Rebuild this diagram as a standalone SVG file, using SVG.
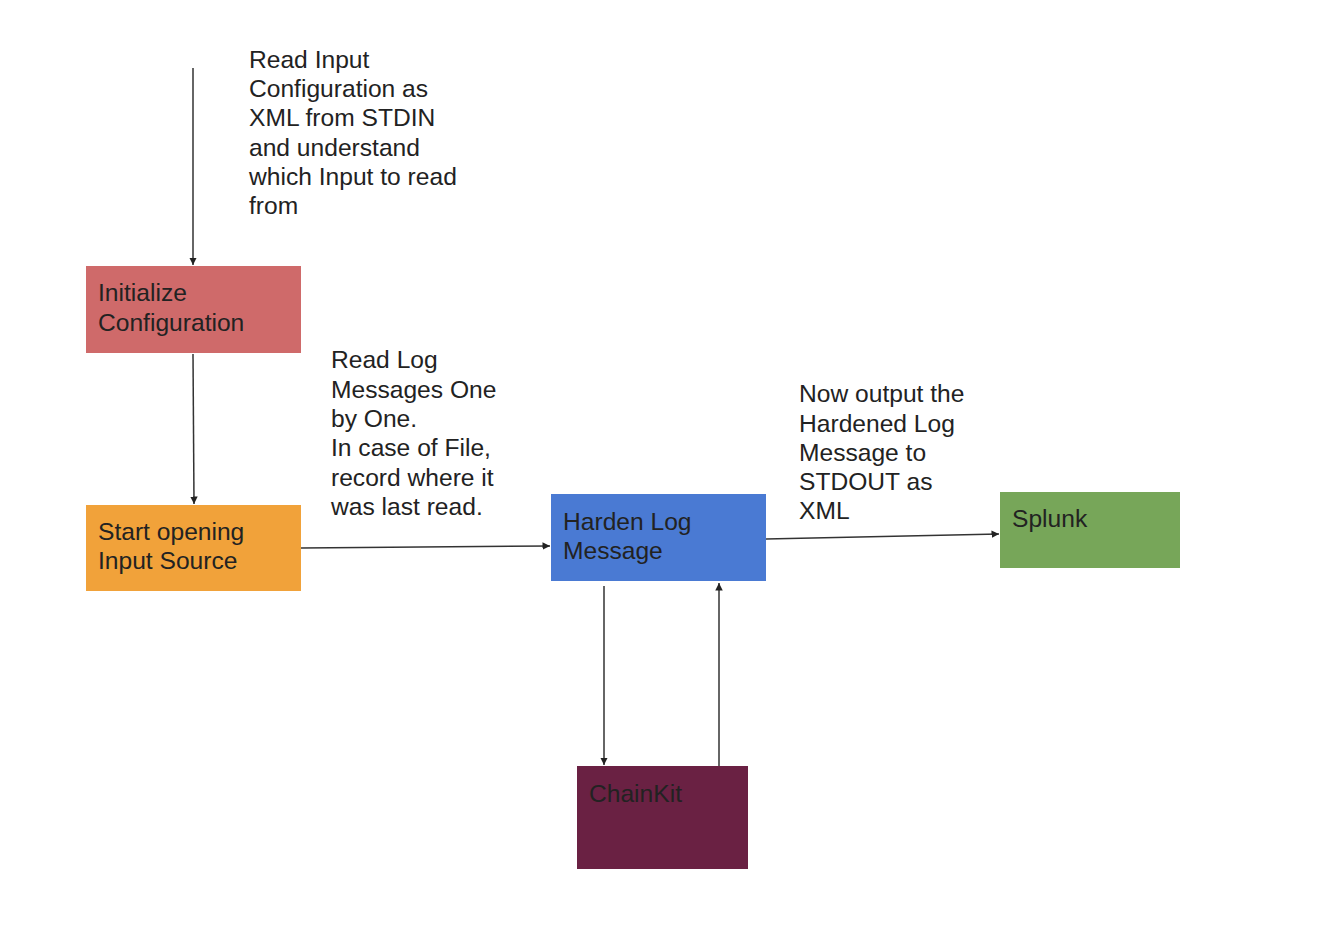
<svg xmlns="http://www.w3.org/2000/svg" width="1328" height="938" viewBox="0 0 1328 938">
<defs>
<marker id="arr" viewBox="0 0 10 10" refX="10" refY="5" markerWidth="5" markerHeight="5" orient="auto" markerUnits="strokeWidth">
<path d="M0,0 L10,5 L0,10 z" fill="#222"/>
</marker>
<style>
text{font-family:"Liberation Sans",Arial,sans-serif;font-size:24.6px;fill:#222}
.conn line{stroke:#333;stroke-width:1.5;marker-end:url(#arr)}
</style>
</defs>
<rect width="1328" height="938" fill="#fff"/>
<g id="connectors" class="conn">
<line x1="193" y1="68" x2="193" y2="265"/>
<line x1="193" y1="354" x2="194" y2="504"/>
<line x1="301" y1="548" x2="550" y2="546"/>
<line x1="766" y1="539" x2="999" y2="534"/>
<line x1="604" y1="586" x2="604" y2="765"/>
<line x1="719" y1="766" x2="719" y2="583"/>
</g>
<g id="label-read-input">
<text x="249" y="68">Read Input</text>
<text x="249" y="97">Configuration as</text>
<text x="249" y="126">XML from STDIN</text>
<text x="249" y="156">and understand</text>
<text x="249" y="185">which Input to read</text>
<text x="249" y="214">from</text>
</g>
<g id="label-read-log">
<text x="331" y="368">Read Log</text>
<text x="331" y="398">Messages One</text>
<text x="331" y="427">by One.</text>
<text x="331" y="456">In case of File,</text>
<text x="331" y="486">record where it</text>
<text x="331" y="515">was last read.</text>
</g>
<g id="label-output">
<text x="799" y="402">Now output the</text>
<text x="799" y="432">Hardened Log</text>
<text x="799" y="461">Message to</text>
<text x="799" y="490">STDOUT as</text>
<text x="799" y="519">XML</text>
</g>
<g id="node-init">
<rect x="86" y="266" width="215" height="87" fill="#cf6a6a"/>
<text x="98" y="301">Initialize</text>
<text x="98" y="331">Configuration</text>
</g>
<g id="node-start">
<rect x="86" y="505" width="215" height="86" fill="#f1a23a"/>
<text x="98" y="540">Start opening</text>
<text x="98" y="569">Input Source</text>
</g>
<g id="node-harden">
<rect x="551" y="494" width="215" height="87" fill="#4a7ad3"/>
<text x="563" y="530">Harden Log</text>
<text x="563" y="559">Message</text>
</g>
<g id="node-splunk">
<rect x="1000" y="492" width="180" height="76" fill="#77a659"/>
<text x="1012" y="527">Splunk</text>
</g>
<g id="node-chainkit">
<rect x="577" y="766" width="171" height="103" fill="#6a2143"/>
<text x="589" y="802">ChainKit</text>
</g>
</svg>
